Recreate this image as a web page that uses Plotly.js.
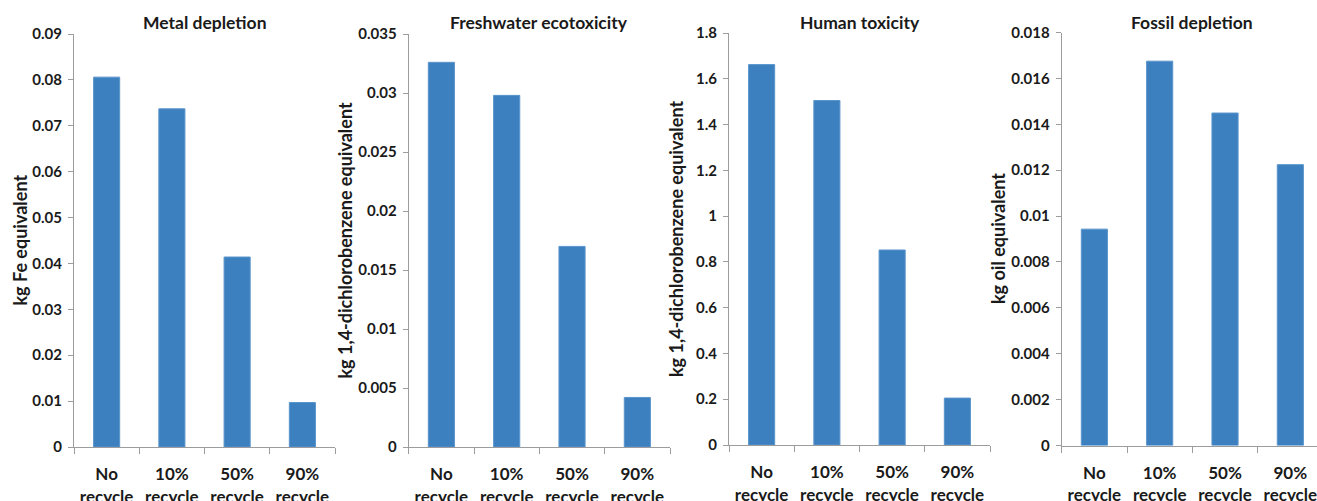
<!DOCTYPE html>
<html>
<head>
<meta charset="utf-8">
<script src="https://cdn.plot.ly/plotly-3.0.1.min.js"></script>
<style>
html,body{margin:0;padding:0;overflow:hidden;background:#fff;}
#chart{width:1330px;height:501px;}
</style>
</head>
<body>
<div id="chart"></div>
<script>
// ---- data ----
var categories = ["No<br>recycle", "10%<br>recycle", "50%<br>recycle", "90%<br>recycle"];
var panelTitles = ["Metal depletion", "Freshwater ecotoxicity", "Human toxicity", "Fossil depletion"];
var yTitles = ["kg Fe equivalent", "kg 1,4-dichlorobenzene equivalent", "kg 1,4-dichlorobenzene equivalent", "kg oil equivalent"];
var metalDepletion = [0.0806, 0.0737, 0.0414, 0.0097];
var freshwaterEcotox = [0.0326, 0.0298, 0.0170, 0.0042];
var humanToxicity = [1.662, 1.505, 0.852, 0.205];
var fossilDepletion = [0.00943, 0.01675, 0.01449, 0.01224];
var yMax = [0.09, 0.035, 1.8, 0.018];
var yStep = [0.01, 0.005, 0.2, 0.002];

var series = [metalDepletion, freshwaterEcotox, humanToxicity, fossilDepletion];

// ---- layout geometry ----
var W = 1330, H = 501;
var xDom = [[74, 335], [408.7, 670], [729, 990], [1061.7, 1323]];
var yDom = [[447, 34], [447, 34], [445, 33], [445.5, 32.5]];
var yTitleX = [19, 344, 676, 998];

var FONT = "Lato, 'Open Sans', sans-serif";
var BLUE = "#3d80bf";
var AXC = "#9c9c9c";

var traces = [];
var layout = {
  width: W, height: H,
  margin: {l: 0, r: 0, t: 0, b: 0},
  paper_bgcolor: "#fff", plot_bgcolor: "#fff",
  showlegend: false,
  bargap: 0.6,
  font: {family: FONT, color: "#1a1a1a"},
  annotations: []
};

for (var i = 0; i < 4; i++) {
  var n = i === 0 ? "" : String(i + 1);
  traces.push({
    type: "bar",
    x: categories,
    y: series[i],
    xaxis: "x" + n,
    yaxis: "y" + n,
    marker: {color: BLUE, line: {color: "#5a95cc", width: 1}},
    hoverinfo: "x+y"
  });
  layout["xaxis" + n] = {
    domain: [xDom[i][0] / W, xDom[i][1] / W],
    anchor: "y" + n,
    type: "category",
    showline: true, linecolor: AXC, linewidth: 1,
    ticks: "outside", ticklen: 6, tickcolor: AXC, tickson: "boundaries",
    ticklabelstandoff: 12,
    showgrid: false, zeroline: false,
    tickfont: {family: FONT, size: 17, weight: "bold", color: "#1a1a1a"},
    fixedrange: true
  };
  layout["yaxis" + n] = {
    domain: [(H - yDom[i][0]) / H, (H - yDom[i][1]) / H],
    anchor: "x" + n,
    range: [0, yMax[i]],
    dtick: yStep[i], tick0: 0,
    showline: true, linecolor: AXC, linewidth: 1,
    ticks: "outside", ticklen: 5, tickcolor: AXC,
    ticklabelstandoff: 3,
    showgrid: false, zeroline: false,
    tickfont: {family: FONT, size: 15, weight: "bold", color: "#1a1a1a"},
    fixedrange: true
  };
  layout.annotations.push({
    text: "<b>" + panelTitles[i] + "</b>",
    xref: "paper", yref: "paper",
    x: (xDom[i][0] + xDom[i][1]) / 2 / W, y: (H - 22) / H,
    xanchor: "center", yanchor: "middle", showarrow: false,
    font: {family: FONT, size: 17.5, color: "#1a1a1a"}
  });
  layout.annotations.push({
    text: "<b>" + yTitles[i] + "</b>",
    xref: "paper", yref: "paper",
    x: yTitleX[i] / W, y: (H - (yDom[i][0] + yDom[i][1]) / 2) / H,
    xanchor: "center", yanchor: "middle", showarrow: false, textangle: -90,
    font: {family: FONT, size: 18, color: "#1a1a1a"}
  });
}

Plotly.newPlot("chart", traces, layout, {displayModeBar: false, staticPlot: false});
</script>
</body>
</html>
